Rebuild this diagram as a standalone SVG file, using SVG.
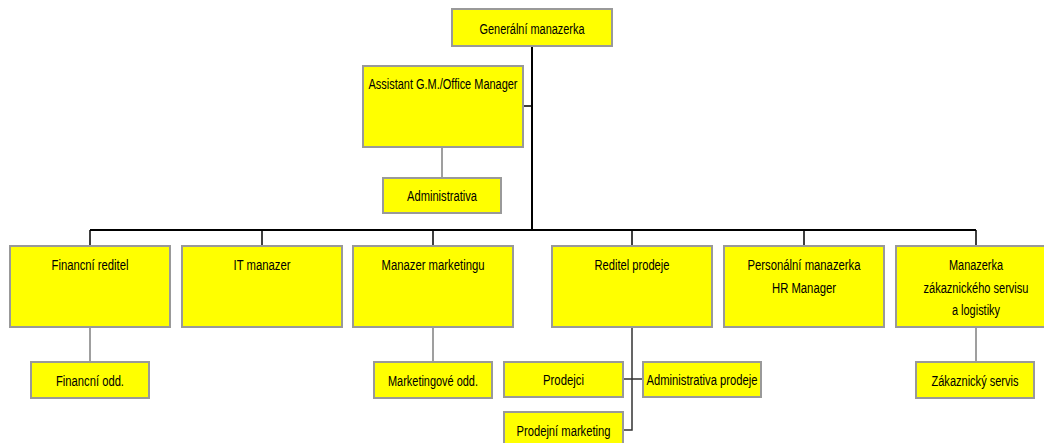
<svg xmlns="http://www.w3.org/2000/svg" width="1044" height="443" viewBox="0 0 1044 443">
<style>
.box{fill:#ffff00;stroke:#999999;stroke-width:2}
.t{font-family:"Liberation Sans",Arial,sans-serif;font-size:15.5px;fill:#000;text-anchor:middle}
.k{stroke:#000;stroke-width:2;fill:none}
.k1{stroke:#000;stroke-width:1.5;fill:none}
.g{stroke:#808080;stroke-width:1.5;fill:none}
.d{stroke:#333;stroke-width:1.5;fill:none}
</style>
<rect width="1044" height="443" fill="#fff"/>
<g id="connectors">
<path class="k" d="M532 46V230M90 230H976"/>
<path class="k1" d="M523 106H532M90 230V246M262 230V246M433 230V246M632 230V246M804 230V246M976 230V246"/>
<path class="g" d="M442 147V178M90 327V362M433 327V362M976 327V362"/>
<path class="d" d="M632 327V430H623M623 379H643"/>
</g>
<g id="n-gm"><rect class="box" x="452" y="9" width="160" height="37"/><text class="t" x="532" y="34" textLength="105" lengthAdjust="spacingAndGlyphs">Generální manazerka</text></g>
<g id="n-asst"><rect class="box" x="363" y="66" width="160" height="81"/><text class="t" x="443" y="89" textLength="149" lengthAdjust="spacingAndGlyphs">Assistant G.M./Office Manager</text></g>
<g id="n-admin"><rect class="box" x="383" y="178" width="118" height="35"/><text class="t" x="442" y="201" textLength="70" lengthAdjust="spacingAndGlyphs">Administrativa</text></g>
<g id="n-fin"><rect class="box" x="10" y="246" width="160" height="81"/><text class="t" x="90" y="270" textLength="77" lengthAdjust="spacingAndGlyphs">Financní reditel</text></g>
<g id="n-it"><rect class="box" x="182" y="246" width="160" height="81"/><text class="t" x="262" y="270" textLength="57" lengthAdjust="spacingAndGlyphs">IT manazer</text></g>
<g id="n-mkt"><rect class="box" x="353" y="246" width="160" height="81"/><text class="t" x="433" y="270" textLength="103" lengthAdjust="spacingAndGlyphs">Manazer marketingu</text></g>
<g id="n-sales"><rect class="box" x="552" y="246" width="160" height="81"/><text class="t" x="632" y="270" textLength="75" lengthAdjust="spacingAndGlyphs">Reditel prodeje</text></g>
<g id="n-hr"><rect class="box" x="724" y="246" width="160" height="81"/><text class="t" x="804" y="270" textLength="113" lengthAdjust="spacingAndGlyphs">Personální manazerka</text><text class="t" x="804" y="293" textLength="64" lengthAdjust="spacingAndGlyphs">HR Manager</text></g>
<g id="n-cs"><rect class="box" x="896" y="246" width="160" height="81"/><text class="t" x="976" y="270" textLength="54" lengthAdjust="spacingAndGlyphs">Manazerka</text><text class="t" x="976" y="293" textLength="105" lengthAdjust="spacingAndGlyphs">zákaznického servisu</text><text class="t" x="976" y="315" textLength="48" lengthAdjust="spacingAndGlyphs">a logistiky</text></g>
<g id="n-finodd"><rect class="box" x="31" y="362" width="118" height="36"/><text class="t" x="90" y="386" textLength="68" lengthAdjust="spacingAndGlyphs">Financní odd.</text></g>
<g id="n-mktodd"><rect class="box" x="374" y="362" width="118" height="36"/><text class="t" x="433" y="386" textLength="90" lengthAdjust="spacingAndGlyphs">Marketingové odd.</text></g>
<g id="n-prodejci"><rect class="box" x="504" y="362" width="119" height="35"/><text class="t" x="563.5" y="385" textLength="41" lengthAdjust="spacingAndGlyphs">Prodejci</text></g>
<g id="n-admprod"><rect class="box" x="643" y="362" width="118" height="35"/><text class="t" x="702" y="385" textLength="111" lengthAdjust="spacingAndGlyphs">Administrativa prodeje</text></g>
<g id="n-prodmkt"><rect class="box" x="504" y="412" width="119" height="36"/><text class="t" x="563.5" y="436" textLength="94" lengthAdjust="spacingAndGlyphs">Prodejní marketing</text></g>
<g id="n-zak"><rect class="box" x="916" y="362" width="118" height="36"/><text class="t" x="975" y="386" textLength="87" lengthAdjust="spacingAndGlyphs">Zákaznický servis</text></g>
</svg>
